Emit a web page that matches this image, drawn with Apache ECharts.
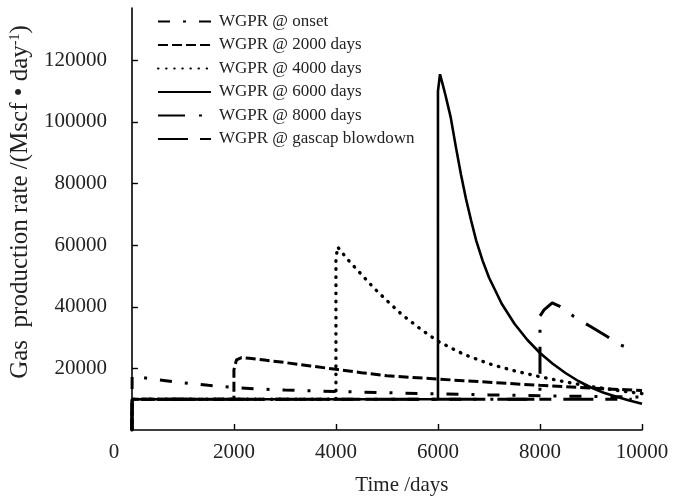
<!DOCTYPE html>
<html>
<head>
<meta charset="utf-8">
<script src="https://cdn.jsdelivr.net/npm/echarts@6/dist/echarts.min.js"></script>
<style>html,body{margin:0;padding:0;background:#fff}#c{width:673px;height:502px}</style>
</head>
<body>
<div id="c"></div>
<script>
const seriesNames = ['WGPR @ onset', 'WGPR @ 2000 days', 'WGPR @ 4000 days', 'WGPR @ 6000 days', 'WGPR @ 8000 days', 'WGPR @ gascap blowdown'];
const xTicks = [0, 2000, 4000, 6000, 8000, 10000];
const yTicks = [20000, 40000, 60000, 80000, 100000, 120000];

const onsetDays = [0, 5, 500, 1000, 1500, 2000, 2500, 3000, 4000, 5000, 6000, 7000, 8000, 9000, 10000];
const onsetRate = [0, 17500, 16300, 15300, 14500, 13800, 13300, 12950, 12500, 12100, 11700, 11400, 11100, 10900, 10700];

const d2000Days = [0, 5, 2000, 2000, 2050, 2150, 2300, 2600, 3000, 3500, 4000, 4500, 5000, 5750, 6500, 7000, 8000, 9000, 10000];
const d2000Rate = [0, 10000, 10000, 19500, 22800, 23500, 23300, 22700, 21900, 20800, 19700, 18600, 17600, 16800, 16000, 15500, 14500, 13600, 12800];

const d4000Days = [0, 5, 4000, 4000, 4030, 4100, 4250, 4500, 4750, 5000, 5290, 5680, 6000, 6500, 7000, 7500, 8000, 8500, 9000, 9500, 10000];
const d4000Rate = [0, 10000, 10000, 55000, 59500, 58000, 55000, 50500, 46000, 42000, 37500, 32500, 28800, 24600, 21500, 19200, 17300, 15600, 14100, 12900, 11800];

const d6000Days = [0, 5, 6000, 6000, 6040, 6080, 6150, 6250, 6350, 6450, 6550, 6650, 6750, 6875, 7000, 7250, 7500, 7750, 8000, 8250, 8500, 8750, 9000, 9250, 9500, 9750, 10000];
const d6000Rate = [0, 10000, 10000, 110000, 115500, 113000, 108500, 101500, 92000, 83000, 75000, 68000, 61500, 55000, 49500, 41000, 34500, 29300, 25000, 21500, 18500, 15900, 13800, 12100, 10800, 9600, 8500];

const d8000Days = [0, 5, 8000, 8000, 8080, 8240, 8460, 8665, 9000, 9300, 9550, 9780];
const d8000Rate = [0, 10000, 10000, 37000, 39000, 41300, 39600, 36800, 33500, 30500, 27800, 26300];

const blowDays = [0, 5, 9800];
const blowRate = [0, 10000, 10000];

const dashes = [[12, 13, 3, 13], [10, 4], [0.5, 7.6], 'solid', [27, 14, 3, 14], [30, 12, 12, 12]];
const caps = ['butt', 'butt', 'round', 'butt', 'butt', 'butt'];
const widths = [3, 3, 3.4, 2.6, 3, 3];
const allDays = [onsetDays, d2000Days, d4000Days, d6000Days, d8000Days, blowDays];
const allRates = [onsetRate, d2000Rate, d4000Rate, d6000Rate, d8000Rate, blowRate];

const FONT = '"Liberation Serif", "Times New Roman", serif';
const TXT = '#222';
const chart = echarts.init(document.getElementById('c'));
const series = seriesNames.map((n, i) => ({
  name: n,
  type: 'line',
  symbol: 'none',
  showSymbol: false,
  data: allDays[i].map((d, k) => [d, allRates[i][k]]),
  lineStyle: { color: '#000', width: widths[i], type: dashes[i], cap: caps[i] },
  itemStyle: { color: '#000' },
  z: 2 + i
}));

chart.setOption({
  animation: false,
  backgroundColor: '#fff',
  grid: { left: 130, right: 31, top: 8, bottom: 72, containLabel: false },
  legend: {
    orient: 'vertical',
    left: 152, top: 8,
    itemWidth: 53, itemHeight: 12, itemGap: 6.5,
    data: seriesNames,
    itemStyle: { opacity: 0 },
    textStyle: { fontFamily: FONT, fontSize: 17, color: TXT, lineHeight: 17, padding: [0, 0, 0, 3] }
  },
  xAxis: {
    type: 'value', min: 0, max: 10000, interval: 2000,
    axisLine: { onZero: false, lineStyle: { color: '#000', width: 1.6 } },
    axisTick: { inside: true, length: 6, lineStyle: { color: '#000', width: 1.4 } },
    splitLine: { show: false },
    axisLabel: {
      margin: 12, fontFamily: FONT, fontSize: 21, color: TXT,
      formatter: v => v === 0 ? '{z|0}' : String(v),
      rich: { z: { fontFamily: FONT, fontSize: 21, color: TXT, padding: [0, 36, 0, 0] } }
    },
    name: 'Time /days', nameLocation: 'middle', nameGap: 45,
    nameTextStyle: { fontFamily: FONT, fontSize: 21, color: TXT, padding: [0, 0, 0, 30] }
  },
  yAxis: {
    type: 'value', min: 0, max: 137000,
    axisLine: { show: true, lineStyle: { color: '#000', width: 1.6 } },
    axisTick: { show: true, inside: true, length: 6, customValues: yTicks, lineStyle: { color: '#000', width: 1.4 } },
    splitLine: { show: false },
    axisLabel: { customValues: yTicks, margin: 25, fontFamily: FONT, fontSize: 21, color: TXT, formatter: v => String(v) },
    name: '{a|Gas  production rate /(Mscf • day}{s|-1}{a|)}',
    nameLocation: 'middle', nameGap: 80,
    nameTextStyle: {
      padding: [0, 0, 0, 34],
      rich: {
        a: { fontFamily: FONT, fontSize: 25, color: TXT },
        s: { fontFamily: FONT, fontSize: 14, color: TXT, verticalAlign: 'top' }
      }
    }
  },
  series: series
});
</script>
</body>
</html>
